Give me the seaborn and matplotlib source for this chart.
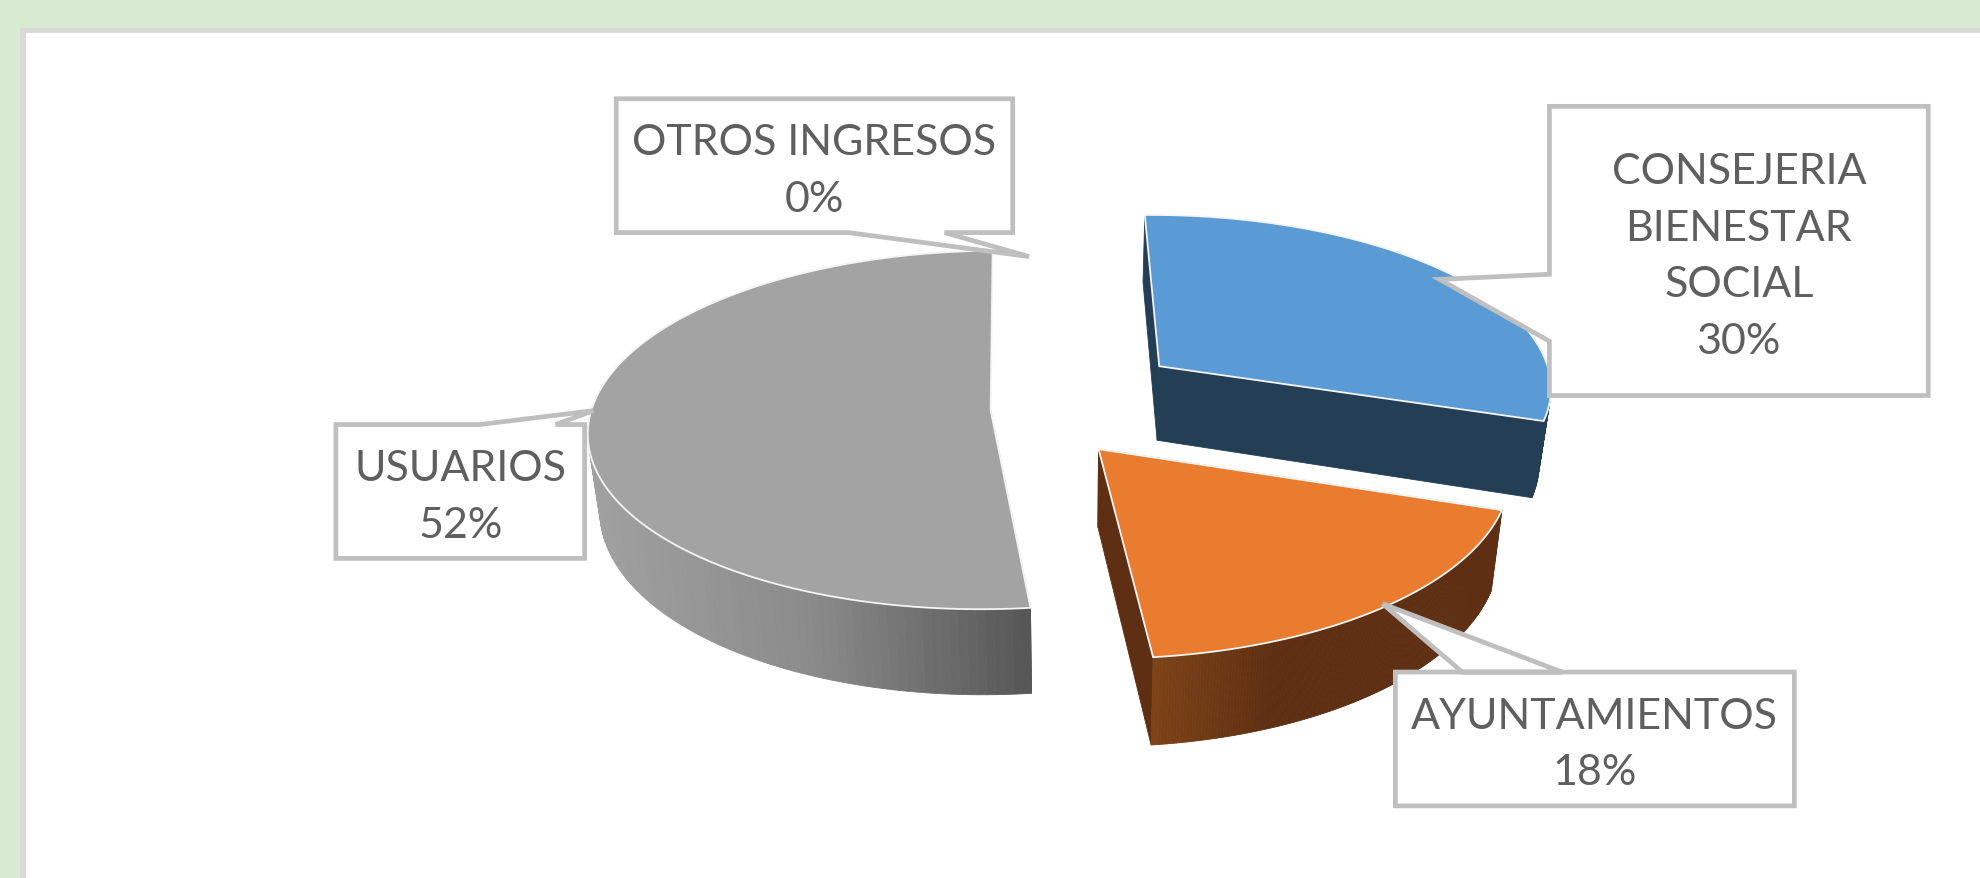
import numpy as np
import matplotlib
matplotlib.use("Agg")
import matplotlib.pyplot as plt
from matplotlib.patches import Polygon, Rectangle
import seaborn as sns

# ---------- data ----------
categories = ["CONSEJERIA\nBIENESTAR\nSOCIAL", "AYUNTAMIENTOS", "USUARIOS", "OTROS INGRESOS"]
shares = [30.4, 18.1, 51.5, 0.0]

# ---------- styling / layout ----------
sns.set_theme(style="white")
plt.rcParams["font.family"] = ["Lato", "DejaVu Sans"]
S = 1980 / 1568
FIRST_ANGLE = -1.0
top_colors = ["#5b9bd5", "#ea7c30", "#a3a3a3", "#ffc000"]
wall_stops = [["#243e55", "#243e55"], ["#7c4318", "#5e2f12", "#5e2f12", "#5e2f12"],
              ["#a0a0a0", "#8a8a8a", "#555555"], ["#997300", "#997300"]]
cut_colors = ["#243e55", "#5e2f12", "#5a5a5a", "#997300"]
slice_shift = [(0.219, -0.215), (0.061, 0.255), (-0.205, 0.04), (-0.205, 0.04)]
X0, Y0, A, B, P, DEPTH, SHRINK, RX = 850, 320, 318, 139, 0.11, 60, 0.975, 0.99
EDGE = "#bfbfbf"
TXT = "#5f5f5f"
boxes = [(1227, 85, 1527, 314), (1105, 533, 1421, 639), (266, 337, 463, 443), (488, 79, 802, 185)]
tails = [
    ("left", [(1227, 218), (1140, 222), (1227, 271)]),
    ("top", [(1237, 533), (1095, 479), (1158, 533)]),
    ("top", [(380, 337), (470, 326), (440, 337)]),
    ("bottom", [(748, 185), (815, 204), (672, 185)]),
]


def project(u, v, low=False):
    w = 1 - P * v
    x = A * u / w
    y = B * v / w
    if low:
        return (X0 + SHRINK * x) * S, (Y0 + y + DEPTH / w) * S
    return (X0 + x) * S, (Y0 + y) * S


fig = plt.figure(figsize=(19.8, 8.79), dpi=100, facecolor="#d9ead3")
ax = fig.add_axes([0, 0, 1, 1])
ax.set_xlim(0, 1980)
ax.set_ylim(879, 0)
ax.axis("off")
ax.add_patch(Rectangle((20, 29), 2000, 900, fc="#d9d9d9", ec="none", zorder=0))
ax.add_patch(Rectangle((26, 34), 2000, 900, fc="white", ec="none", zorder=0))

# angles from the values, clockwise from 12 o'clock
edges = np.deg2rad(np.concatenate([[0], np.cumsum(shares)]) * 3.6 + FIRST_ANGLE)


def slice_geometry(i, n=160):
    th = np.linspace(edges[i], edges[i + 1], n)
    su, sv = slice_shift[i]
    return th, su + RX * np.sin(th), sv - np.cos(th), su, sv


def quad(p, color, z):
    ax.add_patch(Polygon(p, closed=True, fc=color, ec=color, lw=0.6, zorder=z))


for order, i in enumerate([0, 2, 1]):
    z = 2 + order * 5
    th, u, v, su, sv = slice_geometry(i)
    # radial cut faces (the closing face of the big slice stays hidden)
    faces = [(u[0], v[0])] if i == 2 else [(u[0], v[0]), (u[-1], v[-1])]
    for uu, vv in faces:
        quad([project(su, sv), project(uu, vv), project(uu, vv, True), project(su, sv, True)], cut_colors[i], z)
    # outer wall, shaded across the screen
    xs_all = np.array([project(a, b)[0] for a, b in zip(u, v)])
    vis = v > sv - 0.2
    lo, hi = xs_all[vis].min(), xs_all[vis].max()
    pal = sns.blend_palette(wall_stops[i], 64)
    for k in range(len(th) - 1):
        if not vis[k]:
            continue
        f = (0.5 * (xs_all[k] + xs_all[k + 1]) - lo) / max(hi - lo, 1)
        quad([project(u[k], v[k]), project(u[k + 1], v[k + 1]),
              project(u[k + 1], v[k + 1], True), project(u[k], v[k], True)],
             pal[int(np.clip(f, 0, 1) * 63)], z + 1)
    # top face
    top = [project(su, sv)] + [project(a, b) for a, b in zip(u, v)]
    ax.add_patch(Polygon(top, closed=True, fc=top_colors[i], ec="#f4f4f4", lw=1.3, zorder=z + 2))

# ---------- callouts ----------
for cat, val, (x0, y0, x1, y1), (side, tail) in zip(categories, shares, boxes, tails):
    corners = {
        "top": [(x0, y0)] + tail + [(x1, y0), (x1, y1), (x0, y1)],
        "bottom": [(x0, y0), (x1, y0), (x1, y1)] + tail + [(x0, y1)],
        "left": [(x0, y0), (x1, y0), (x1, y1), (x0, y1), tail[2], tail[1], tail[0]],
    }[side]
    ax.add_patch(Polygon([(a * S, b * S) for a, b in corners], closed=True, fc="white", ec=EDGE,
                         lw=3.4, joinstyle="miter", zorder=30))
    ax.text((x0 + x1) / 2 * S, (y0 + y1) / 2 * S + 5, f"{cat}\n{val:.0f}%", ha="center", va="center",
            color=TXT, fontsize=31, linespacing=1.6, zorder=31)

fig.savefig("out.png", dpi=100, facecolor=fig.get_facecolor())
